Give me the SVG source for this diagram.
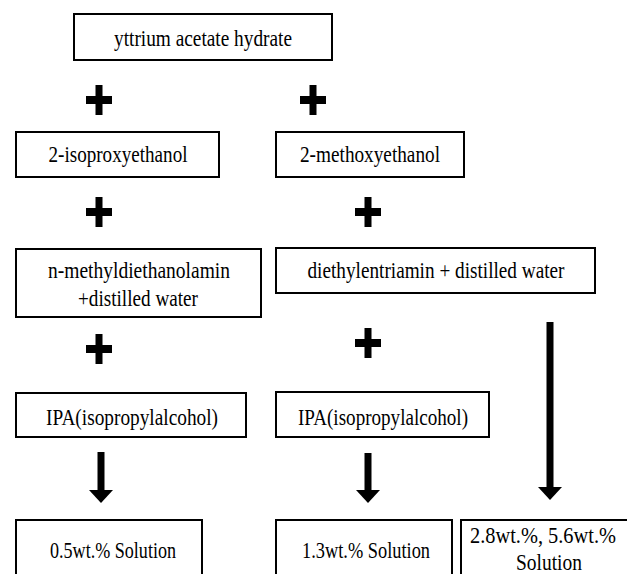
<svg xmlns="http://www.w3.org/2000/svg" width="627" height="574" viewBox="0 0 627 574">
<style>
.box{fill:#fff;stroke:#000;stroke-width:2}
.t{font-family:"Liberation Serif","Times New Roman",serif;font-size:23px;fill:#000;text-anchor:middle}
.shaft{stroke:#000;stroke-width:7;fill:none}
.plus{fill:#000}
</style>
<defs>
<marker id="ah" markerUnits="userSpaceOnUse" markerWidth="13" markerHeight="24" refX="0" refY="12" orient="auto">
<path d="M0,0 L13,12 L0,24 z" fill="#000"/>
</marker>
<path id="pl" d="M-13,-4 H-3.5 V-15 H3.5 V-4 H13 V4 H3.5 V15 H-3.5 V4 H-13 Z"/>
</defs>
<rect width="627" height="574" fill="#fff"/>
<g id="connectors">
<use href="#pl" class="plus" x="99" y="100"/>
<use href="#pl" class="plus" x="313" y="100"/>
<use href="#pl" class="plus" x="99" y="212"/>
<use href="#pl" class="plus" x="368" y="212"/>
<use href="#pl" class="plus" x="99" y="349"/>
<use href="#pl" class="plus" x="368" y="343"/>
<line class="shaft" x1="101" y1="452" x2="101" y2="490" marker-end="url(#ah)"/>
<line class="shaft" x1="368" y1="453" x2="368" y2="490" marker-end="url(#ah)"/>
<line class="shaft" x1="550" y1="322" x2="550" y2="487" marker-end="url(#ah)"/>
</g>
<g id="n1"><rect class="box" x="74" y="14" width="258" height="46"/><text class="t" x="203" y="46" textLength="178" lengthAdjust="spacingAndGlyphs">yttrium acetate hydrate</text></g>
<g id="n2"><rect class="box" x="16" y="132" width="203" height="45"/><text class="t" x="118" y="162" textLength="139" lengthAdjust="spacingAndGlyphs">2-isoproxyethanol</text></g>
<g id="n3"><rect class="box" x="276" y="132" width="188" height="45"/><text class="t" x="370" y="162" textLength="140" lengthAdjust="spacingAndGlyphs">2-methoxyethanol</text></g>
<g id="n4"><rect class="box" x="16" y="249" width="245" height="68"/><text class="t" x="139" y="278" textLength="182" lengthAdjust="spacingAndGlyphs">n-methyldiethanolamin</text><text class="t" x="138" y="306" textLength="120" lengthAdjust="spacingAndGlyphs">+distilled water</text></g>
<g id="n5"><rect class="box" x="276" y="248" width="319" height="45"/><text class="t" x="436" y="278" textLength="257" lengthAdjust="spacingAndGlyphs">diethylentriamin + distilled water</text></g>
<g id="n6"><rect class="box" x="16" y="393" width="230" height="44"/><text class="t" x="132" y="425" textLength="172" lengthAdjust="spacingAndGlyphs">IPA(isopropylalcohol)</text></g>
<g id="n7"><rect class="box" x="276" y="392" width="213" height="45"/><text class="t" x="383" y="425" textLength="170" lengthAdjust="spacingAndGlyphs">IPA(isopropylalcohol)</text></g>
<g id="n8"><rect class="box" x="16" y="520" width="186" height="70"/><text class="t" x="113" y="558" textLength="126" lengthAdjust="spacingAndGlyphs">0.5wt.% Solution</text></g>
<g id="n9"><rect class="box" x="276" y="520" width="176" height="70"/><text class="t" x="366" y="558" textLength="128" lengthAdjust="spacingAndGlyphs">1.3wt.% Solution</text></g>
<g id="n10"><rect class="box" x="461" y="520" width="180" height="70"/><text class="t" x="543" y="543" textLength="146" lengthAdjust="spacingAndGlyphs">2.8wt.%, 5.6wt.%</text><text class="t" x="549" y="570" textLength="66" lengthAdjust="spacingAndGlyphs">Solution</text></g>
</svg>
